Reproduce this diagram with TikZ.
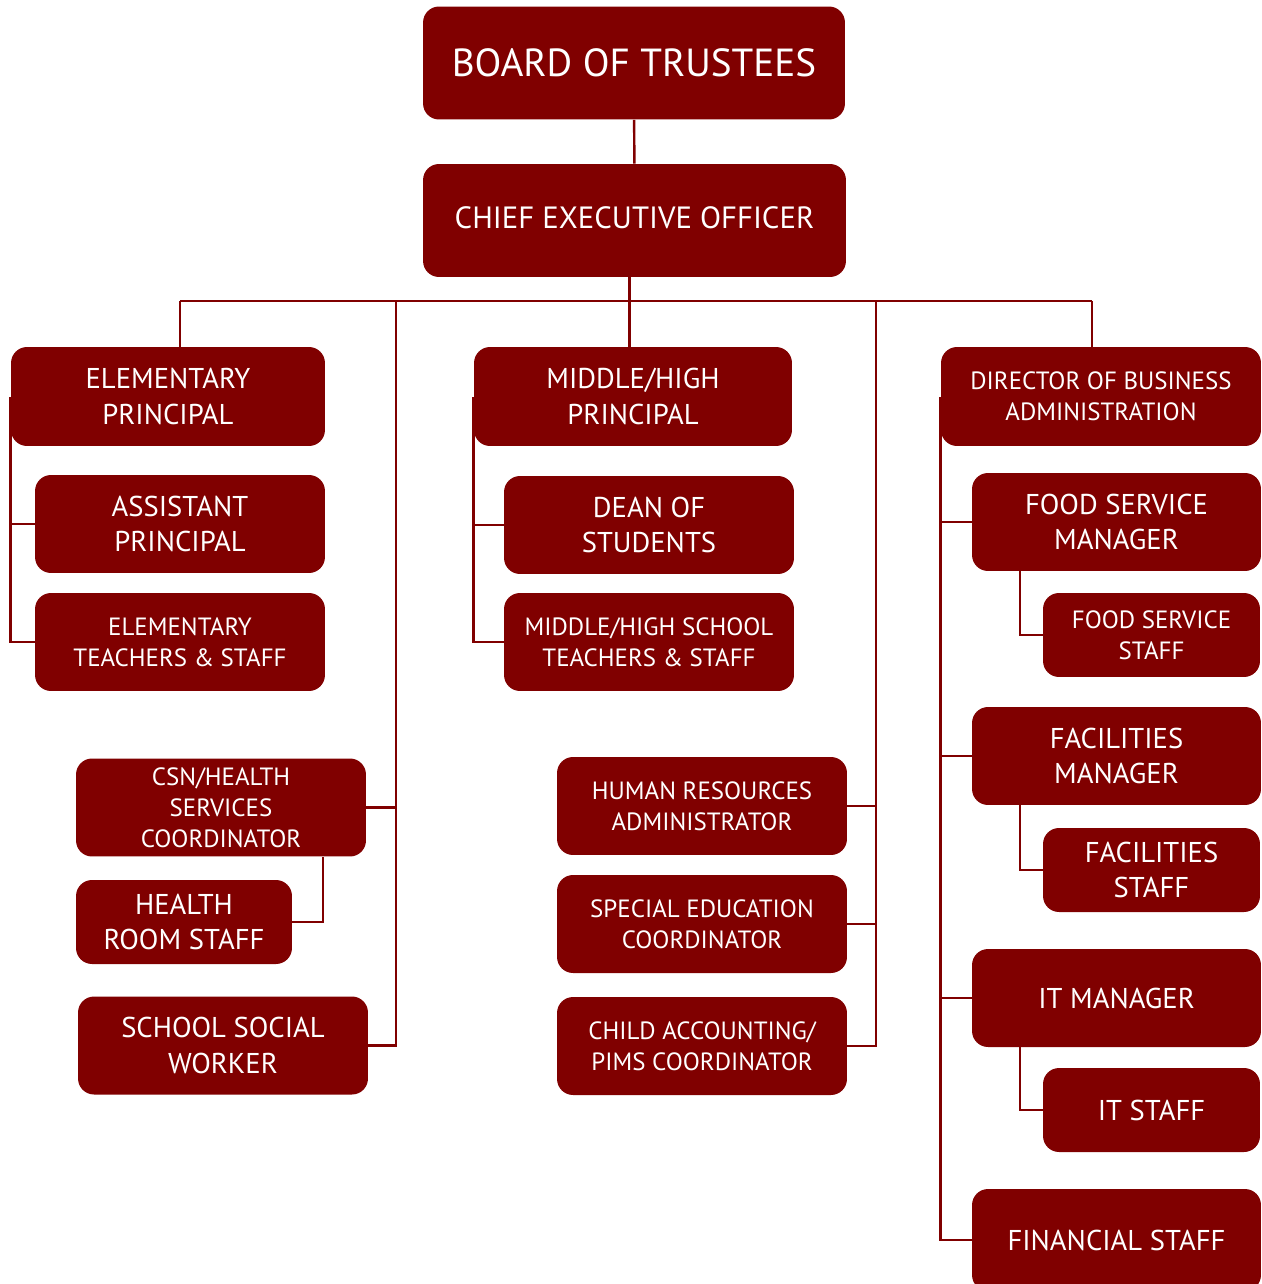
\documentclass[tikz,border=0pt]{standalone}
\usepackage{fontspec}
\setmainfont{PT Sans}
\definecolor{maroon}{RGB}{128,0,0}
\begin{document}
\begin{tikzpicture}[x=0.02cm,y=-0.02cm,
	box/.style={fill=maroon,text=white,rounded corners=0.32cm,align=center,inner sep=0pt,minimum width=5.8cm,minimum height=1.96cm},
	big/.style={font=\fontsize{16.3}{20}\selectfont},
	small/.style={font=\fontsize{14.2}{17.6}\selectfont},
	staffbox/.style={box,minimum width=4.34cm,minimum height=1.68cm},
	link/.style={draw=maroon,line width=1.4pt}]
	\useasboundingbox (0,0) rectangle (1261,1284);
	\clip (0,0) rectangle (1261,1284);
	\node[box,minimum width=8.44cm,minimum height=2.26cm,font=\fontsize{22.3}{26}\selectfont] (board) at (634,63) {BOARD OF TRUSTEES};
	\node[box,minimum width=8.46cm,minimum height=2.26cm,font=\fontsize{17.5}{22}\selectfont] (ceo) at (634.5,220.5) {CHIEF EXECUTIVE OFFICER\vphantom{g}};
	\node[box,big,minimum width=6.28cm,minimum height=1.98cm] (elp) at (168,396.5) {ELEMENTARY\\PRINCIPAL};
	\node[box,big] (asp) at (180,524) {ASSISTANT\\PRINCIPAL};
	\node[box,small] (elt) at (180,642) {ELEMENTARY\\TEACHERS \& STAFF};
	\node[box,small] (csn) at (221,807.5) {CSN/HEALTH\\SERVICES\\COORDINATOR};
	\node[box,big,minimum width=4.32cm,minimum height=1.68cm] (hrs) at (184,922) {HEALTH\\ROOM STAFF};
	\node[box,big] (ssw) at (223,1045.5) {SCHOOL SOCIAL\\WORKER};
	\node[box,big,minimum width=6.36cm,minimum height=1.98cm] (mhp) at (633,396.5) {MIDDLE/HIGH\\PRINCIPAL};
	\node[box,big] (dean) at (649,525) {DEAN OF\\STUDENTS};
	\node[box,small] (mht) at (649,642) {MIDDLE/HIGH SCHOOL\\TEACHERS \& STAFF};
	\node[box,small] (hra) at (702,806) {HUMAN RESOURCES\\ADMINISTRATOR};
	\node[box,small] (sped) at (702,924) {SPECIAL EDUCATION\\COORDINATOR};
	\node[box,small] (cap) at (702,1046) {CHILD ACCOUNTING/\\PIMS COORDINATOR};
	\node[box,small,minimum width=6.4cm,minimum height=1.98cm] (dir) at (1101,396.5) {DIRECTOR OF BUSINESS\\ADMINISTRATION};
	\node[box,big,minimum width=5.78cm] (fsm) at (1116.5,522) {FOOD SERVICE\\MANAGER};
	\node[staffbox,small] (fss) at (1151.5,635) {FOOD SERVICE\\STAFF};
	\node[box,big,minimum width=5.78cm] (fam) at (1116.5,756) {FACILITIES\\MANAGER};
	\node[staffbox,big] (fas) at (1151.5,870) {FACILITIES\\STAFF};
	\node[box,big,minimum width=5.78cm] (itm) at (1116.5,998) {IT MANAGER};
	\node[staffbox,big] (its) at (1151.5,1110) {IT STAFF};
	\node[box,big,minimum width=5.78cm,minimum height=2.04cm] (fin) at (1116.5,1240) {FINANCIAL STAFF};
	\coordinate (busL) at (180,301);
	\coordinate (busR) at (1092,301);
	\coordinate (sideL) at (396,301);
	\coordinate (sideR) at (876,301);
	\coordinate (csnhook) at (323,857);
	\coordinate (fsmhook) at (1020,571);
	\coordinate (famhook) at (1020,805);
	\coordinate (itmhook) at (1020,1047);
	\draw[link] (board) -- (ceo);
	\draw[link] (busL) -- (busR);
	\draw[link] ([xshift=-0.1cm]ceo.south) -- ([xshift=-0.1cm]ceo.south |- mhp.north);
	\draw[link] (busL) -- (busL |- elp.north);
	\draw[link] (busR) -- (busR |- dir.north);
	\draw[link] (sideL) |- (ssw.east);
	\draw[link] (csn.east) -- (csn.east -| sideL);
	\draw[link] (sideR) |- (cap.east);
	\draw[link] (hra.east) -- (hra.east -| sideR);
	\draw[link] (sped.east) -- (sped.east -| sideR);
	\draw[link] (elp.west) |- (asp.west);
	\draw[link] (elp.west) |- (elt.west);
	\draw[link] (mhp.west) |- (dean.west);
	\draw[link] (mhp.west) |- (mht.west);
	\draw[link] (csnhook) |- (hrs.east);
	\draw[link] (dir.west) |- (fsm.west);
	\draw[link] (dir.west) |- (fam.west);
	\draw[link] (dir.west) |- (itm.west);
	\draw[link] (dir.west) |- (fin.west);
	\draw[link] (fsmhook) |- (fss.west);
	\draw[link] (famhook) |- (fas.west);
	\draw[link] (itmhook) |- (its.west);
\end{tikzpicture}
\end{document}
